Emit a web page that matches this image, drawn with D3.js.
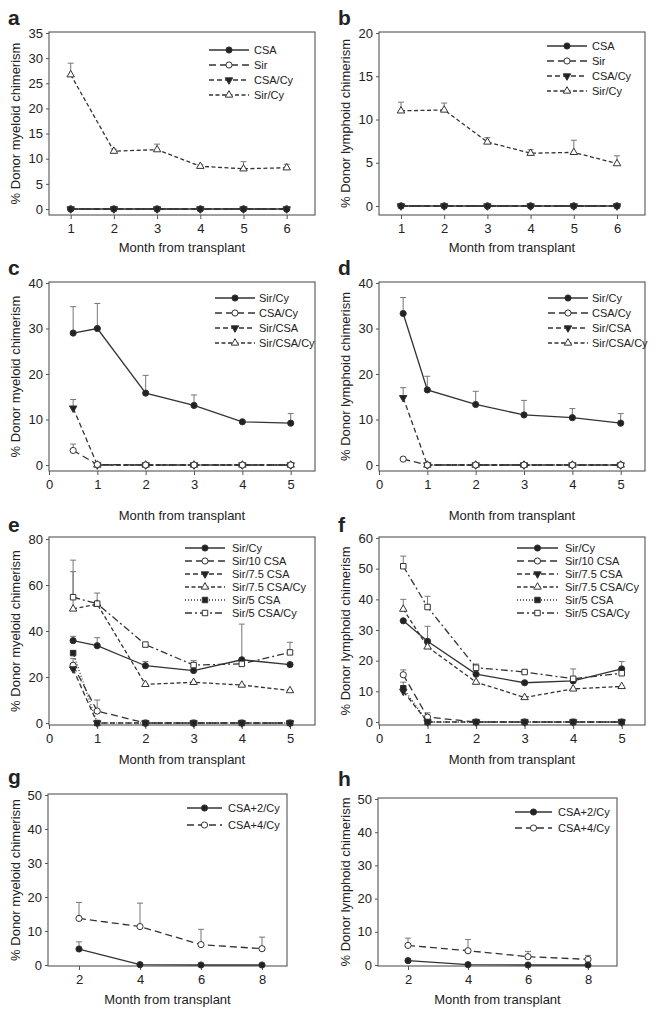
<!DOCTYPE html>
<html>
<head>
<meta charset="utf-8">
<script src="https://cdn.jsdelivr.net/npm/d3@7"></script>
<style>
body { margin: 0; background: #fff; }
text { font-family: "Liberation Sans", Arial, sans-serif; fill: #222; }
</style>
</head>
<body>
<svg id="fig" width="658" height="1014"></svg>
<script>
// ---- data ----
// a/b: months 1..6
var monthsAB = [1, 2, 3, 4, 5, 6];
var aCSA = [0, 0, 0, 0, 0, 0];
var aSir = [0, 0, 0, 0, 0, 0];
var aCSACy = [0, 0, 0, 0, 0, 0];
var aSirCy = [26.7, 11.5, 11.8, 8.5, 8.0, 8.2];
var aSirCyErr = [29.0, 11.9, 12.9, 8.8, 9.4, 8.9];

var bCSA = [0, 0, 0, 0, 0, 0];
var bSir = [0, 0, 0, 0, 0, 0];
var bCSACy = [0, 0, 0, 0, 0, 0];
var bSirCy = [11.0, 11.1, 7.4, 6.1, 6.2, 4.9];
var bSirCyErr = [12.0, 11.9, 7.9, 6.5, 7.6, 5.8];

// c-f: months 0.5, 1..5
var monthsCF = [0.5, 1, 2, 3, 4, 5];
var cSirCy = [29.0, 30.0, 15.8, 13.1, 9.5, 9.2];
var cSirCyErr = [34.8, 35.5, 19.7, 15.4, null, 11.3];
var cCSACy = [3.2, 0.1, 0, 0, 0, 0];
var cCSACyErr = [4.6, null, null, null, null, null];
var cSirCSA = [12.5, 0, 0, 0, 0, 0];
var cSirCSAErr = [14.4, null, null, null, null, null];
var cSirCSACy = [null, 0, 0, 0, 0, 0];

var dSirCy = [33.3, 16.5, 13.3, 11.0, 10.4, 9.2];
var dSirCyErr = [36.8, 19.5, 16.2, 14.2, 12.4, 11.3];
var dCSACy = [1.3, 0, 0, 0, 0, 0];
var dSirCSA = [14.8, 0, 0, 0, 0, 0];
var dSirCSAErr = [17.0, null, null, null, null, null];
var dSirCSACy = [null, 0, 0, 0, 0, 0];

var eSirCy = [35.8, 33.6, 24.9, 22.8, 27.5, 25.4];
var eSirCyErr = [37.7, 37.1, 26.7, null, 43.0, null];
var eSir10 = [25.1, 5.2, 0, 0, 0, 0];
var eSir10Err = [28.0, 10.0, null, null, null, null];
var eSir75 = [23.5, 0, 0, 0, 0, 0];
var eSir75Cy = [49.6, 51.7, 16.8, 17.7, 16.5, 14.1];
var eSir75CyErr = [65.8, null, null, null, null, null];
var eSir5 = [30.4, 0, 0, 0, 0, 0];
var eSir5Err = [31.5, null, null, null, null, null];
var eSir5Cy = [54.7, 51.9, 34.1, 25.2, 25.7, 30.7];
var eSir5CyErr = [70.8, 56.5, null, 27.1, null, 35.1];

var fSirCy = [33.0, 26.3, 15.6, 12.8, 13.4, 17.3];
var fSirCyErr = [null, 31.2, null, null, null, 19.7];
var fSir10 = [15.4, 1.6, 0, 0, 0, 0];
var fSir10Err = [17.0, 3.0, null, null, null, null];
var fSir75 = [10.0, 0, 0, 0, 0, 0];
var fSir75Cy = [36.8, 24.5, 13.0, 8.0, 10.8, 11.6];
var fSir75CyErr = [40.0, null, null, null, null, null];
var fSir5 = [11.0, 0, 0, 0, 0, 0];
var fSir5Err = [13.0, null, null, null, null, null];
var fSir5Cy = [50.8, 37.5, 17.7, 16.3, 14.1, 15.9];
var fSir5CyErr = [54.1, 41.0, 18.9, null, 17.3, null];

// g/h: months 2..8
var monthsGH = [2, 4, 6, 8];
var gCSA2 = [4.7, 0.1, 0, 0];
var gCSA2Err = [6.8, null, null, null];
var gCSA4 = [13.7, 11.3, 6.0, 4.8];
var gCSA4Err = [18.4, 18.2, 10.5, 8.2];
var hCSA2 = [1.3, 0.1, 0, 0];
var hCSA4 = [5.9, 4.3, 2.5, 1.7];
var hCSA4Err = [8.1, 7.7, 4.1, 2.9];

var ticksAB = [1, 2, 3, 4, 5, 6];
var ticksCF = [0, 1, 2, 3, 4, 5];
var ticksGH = [2, 4, 6, 8];

var myeloidTitle = "% Donor myeloid chimerism";
var lymphoidTitle = "% Donor lymphoid chimerism";
var xTitle = "Month from transplant";

// ---- line/marker styles ----
var dashes = { solid: null, long: "7,4", med: "5,3", short: "4,2.5", dot: "1,2", dashdot: "7,3,2,3" };
function ser(name, vals, err, dash, marker, filled) {
  return { name: name, vals: vals, err: err, dash: dashes[dash], marker: marker, filled: filled };
}

var svg = d3.select("#fig");
var lineCol = "#333";

function marker(g, type, filled, x, y) {
  var fill = filled ? "#222" : "#fff";
  if (type === "circle") {
    g.append("circle").attr("cx", x).attr("cy", y).attr("r", 3.1)
      .attr("fill", fill).attr("stroke", lineCol).attr("stroke-width", 1);
  } else {
    var sym = type === "square" ? d3.symbolSquare : d3.symbolTriangle;
    var size = type === "square" ? 30 : 24;
    var rot = type === "down" ? 180 : 0;
    g.append("path").attr("d", d3.symbol().type(sym).size(size)())
      .attr("transform", "translate(" + x + "," + y + ") rotate(" + rot + ")")
      .attr("fill", fill).attr("stroke", lineCol).attr("stroke-width", 1);
  }
}

function panel(p) {
  var g = svg.append("g");
  var x = d3.scaleLinear().domain(p.xRef).range(p.xPix);
  var y = d3.scaleLinear().domain(p.yRef).range(p.yPix);

  // frame
  g.append("rect").attr("x", p.box[0]).attr("y", p.box[1])
    .attr("width", p.box[2] - p.box[0]).attr("height", p.box[3] - p.box[1])
    .attr("fill", "#fff").attr("stroke", "#555").attr("stroke-width", 1.1);

  var xAxis = g.append("g").attr("transform", "translate(0," + p.box[3] + ")")
    .call(d3.axisBottom(x).tickValues(p.xTicks).tickSize(4).tickPadding(5).tickFormat(d3.format("d")));
  var yAxis = g.append("g").attr("transform", "translate(" + p.box[0] + ",0)")
    .call(d3.axisLeft(y).tickValues(p.yTicks).tickSize(3).tickPadding(3).tickFormat(d3.format("d")));
  [xAxis, yAxis].forEach(function (a) {
    a.select(".domain").remove();
    a.selectAll("line").attr("stroke", "#555");
    a.selectAll("text").attr("font-size", 13).attr("fill", "#222")
      .style("font-family", "Liberation Sans, Arial, sans-serif");
  });

  // axis titles
  g.append("text").attr("x", (p.box[0] + p.box[2]) / 2).attr("y", p.xTitleY)
    .attr("text-anchor", "middle").attr("font-size", 13).text(xTitle);
  g.append("text").attr("transform", "translate(" + p.yTitleX + "," + ((p.box[1] + p.box[3]) / 2) + ") rotate(-90)")
    .attr("text-anchor", "middle").attr("font-size", 13).text(p.yTitle);
  g.append("text").attr("x", p.letter[1]).attr("y", p.letter[2])
    .attr("font-size", 21).attr("font-weight", "bold").attr("fill", "#111").text(p.letter[0]);

  var order = p.series.map(function (s, i) { return i; });
  if (p.topFirst) order.reverse();

  // error bars (upward only)
  order.forEach(function (i) {
    var s = p.series[i];
    if (!s.err) return;
    s.err.forEach(function (e, j) {
      if (e == null || s.vals[j] == null) return;
      var cx = x(p.months[j]);
      g.append("line").attr("x1", cx).attr("x2", cx).attr("y1", y(s.vals[j])).attr("y2", y(e))
        .attr("stroke", "#777").attr("stroke-width", 1);
      g.append("line").attr("x1", cx - 3).attr("x2", cx + 3).attr("y1", y(e)).attr("y2", y(e))
        .attr("stroke", "#777").attr("stroke-width", 1);
    });
  });

  var line = d3.line().defined(function (d) { return d[1] != null; })
    .x(function (d) { return x(d[0]); }).y(function (d) { return y(d[1]); });

  order.forEach(function (i) {
    var s = p.series[i];
    var pts = p.months.map(function (m, j) { return [m, s.vals[j]]; });
    g.append("path").attr("d", line(pts)).attr("fill", "none")
      .attr("stroke", lineCol).attr("stroke-width", 1.3)
      .attr("stroke-dasharray", s.dash);
    pts.forEach(function (d) {
      if (d[1] != null) marker(g, s.marker, s.filled, x(d[0]), y(d[1]));
    });
  });

  // legend
  var L = p.legend;
  p.series.forEach(function (s, i) {
    var ly = L.y0 + i * L.dy;
    g.append("line").attr("x1", L.x0).attr("x2", L.x1).attr("y1", ly).attr("y2", ly)
      .attr("stroke", lineCol).attr("stroke-width", 1.3).attr("stroke-dasharray", s.dash);
    marker(g, s.marker, s.filled, (L.x0 + L.x1) / 2, ly);
    g.append("text").attr("x", L.tx).attr("y", ly + 4).attr("font-size", 11).text(s.name);
  });
}

panel({
  letter: ["a", 8, 25], box: [49, 32, 315, 215], xRef: [1, 6], xPix: [70.7, 286.7], yRef: [0, 35], yPix: [209, 33],
  xTicks: ticksAB, yTicks: d3.range(0, 36, 5), months: monthsAB, yTitle: myeloidTitle, yTitleX: 20, xTitleY: 252,
  topFirst: true, legend: { x0: 209, x1: 249, tx: 254, y0: 50, dy: 15 },
  series: [ser("CSA", aCSA, null, "solid", "circle", true), ser("Sir", aSir, null, "long", "circle", false),
    ser("CSA/Cy", aCSACy, null, "med", "down", true), ser("Sir/Cy", aSirCy, aSirCyErr, "short", "up", false)]
});
panel({
  letter: ["b", 338, 25], box: [379, 32, 645, 215], xRef: [1, 6], xPix: [401, 617], yRef: [0, 20], yPix: [206, 33],
  xTicks: ticksAB, yTicks: d3.range(0, 21, 5), months: monthsAB, yTitle: lymphoidTitle, yTitleX: 350, xTitleY: 252,
  topFirst: true, legend: { x0: 547, x1: 587, tx: 592, y0: 46, dy: 15 },
  series: [ser("CSA", bCSA, null, "solid", "circle", true), ser("Sir", bSir, null, "long", "circle", false),
    ser("CSA/Cy", bCSACy, null, "med", "down", true), ser("Sir/Cy", bSirCy, bSirCyErr, "short", "up", false)]
});
panel({
  letter: ["c", 8, 275], box: [49, 282, 315, 471], xRef: [0, 5], xPix: [49, 290.7], yRef: [0, 40], yPix: [465, 283],
  xTicks: ticksCF, yTicks: d3.range(0, 41, 10), months: monthsCF, yTitle: myeloidTitle, yTitleX: 20, xTitleY: 520,
  topFirst: true, legend: { x0: 215, x1: 255, tx: 259, y0: 298, dy: 15 },
  series: [ser("Sir/Cy", cSirCy, cSirCyErr, "solid", "circle", true), ser("CSA/Cy", cCSACy, cCSACyErr, "long", "circle", false),
    ser("Sir/CSA", cSirCSA, cSirCSAErr, "med", "down", true), ser("Sir/CSA/Cy", cSirCSACy, null, "short", "up", false)]
});
panel({
  letter: ["d", 338, 275], box: [379, 282, 645, 471], xRef: [0, 5], xPix: [379, 620.7], yRef: [0, 40], yPix: [465, 283],
  xTicks: ticksCF, yTicks: d3.range(0, 41, 10), months: monthsCF, yTitle: lymphoidTitle, yTitleX: 350, xTitleY: 520,
  topFirst: true, legend: { x0: 548, x1: 588, tx: 592, y0: 298, dy: 15 },
  series: [ser("Sir/Cy", dSirCy, dSirCyErr, "solid", "circle", true), ser("CSA/Cy", dCSACy, null, "long", "circle", false),
    ser("Sir/CSA", dSirCSA, dSirCSAErr, "med", "down", true), ser("Sir/CSA/Cy", dSirCSACy, null, "short", "up", false)]
});
panel({
  letter: ["e", 8, 532], box: [49, 537, 315, 725], xRef: [0, 5], xPix: [49, 290], yRef: [0, 80], yPix: [723, 539],
  xTicks: ticksCF, yTicks: d3.range(0, 81, 20), months: monthsCF, yTitle: myeloidTitle, yTitleX: 20, xTitleY: 764,
  topFirst: false, legend: { x0: 185, x1: 225, tx: 232, y0: 548, dy: 13 },
  series: [ser("Sir/Cy", eSirCy, eSirCyErr, "solid", "circle", true), ser("Sir/10 CSA", eSir10, eSir10Err, "long", "circle", false),
    ser("Sir/7.5 CSA", eSir75, null, "med", "down", true), ser("Sir/7.5 CSA/Cy", eSir75Cy, eSir75CyErr, "short", "up", false),
    ser("Sir/5 CSA", eSir5, eSir5Err, "dot", "square", true), ser("Sir/5 CSA/Cy", eSir5Cy, eSir5CyErr, "dashdot", "square", false)]
});
panel({
  letter: ["f", 338, 532], box: [379, 537, 645, 725], xRef: [0, 5], xPix: [379, 621.7], yRef: [0, 60], yPix: [722, 538],
  xTicks: ticksCF, yTicks: d3.range(0, 61, 10), months: monthsCF, yTitle: lymphoidTitle, yTitleX: 350, xTitleY: 764,
  topFirst: false, legend: { x0: 517, x1: 558, tx: 565, y0: 548, dy: 13 },
  series: [ser("Sir/Cy", fSirCy, fSirCyErr, "solid", "circle", true), ser("Sir/10 CSA", fSir10, fSir10Err, "long", "circle", false),
    ser("Sir/7.5 CSA", fSir75, null, "med", "down", true), ser("Sir/7.5 CSA/Cy", fSir75Cy, fSir75CyErr, "short", "up", false),
    ser("Sir/5 CSA", fSir5, fSir5Err, "dot", "square", true), ser("Sir/5 CSA/Cy", fSir5Cy, fSir5CyErr, "dashdot", "square", false)]
});
panel({
  letter: ["g", 8, 784], box: [48, 794, 287, 966], xRef: [2, 8], xPix: [79, 262], yRef: [0, 50], yPix: [965, 795],
  xTicks: ticksGH, yTicks: d3.range(0, 51, 10), months: monthsGH, yTitle: myeloidTitle, yTitleX: 20, xTitleY: 1004,
  topFirst: true, legend: { x0: 187, x1: 222, tx: 228, y0: 808, dy: 17 },
  series: [ser("CSA+2/Cy", gCSA2, gCSA2Err, "solid", "circle", true), ser("CSA+4/Cy", gCSA4, gCSA4Err, "long", "circle", false)]
});
panel({
  letter: ["h", 338, 786], box: [378, 798, 617, 966], xRef: [2, 8], xPix: [408, 588], yRef: [0, 50], yPix: [965, 799],
  xTicks: ticksGH, yTicks: d3.range(0, 51, 10), months: monthsGH, yTitle: lymphoidTitle, yTitleX: 350, xTitleY: 1004,
  topFirst: true, legend: { x0: 515, x1: 552, tx: 558, y0: 812, dy: 16 },
  series: [ser("CSA+2/Cy", hCSA2, null, "solid", "circle", true), ser("CSA+4/Cy", hCSA4, hCSA4Err, "long", "circle", false)]
});
</script>
</body>
</html>
